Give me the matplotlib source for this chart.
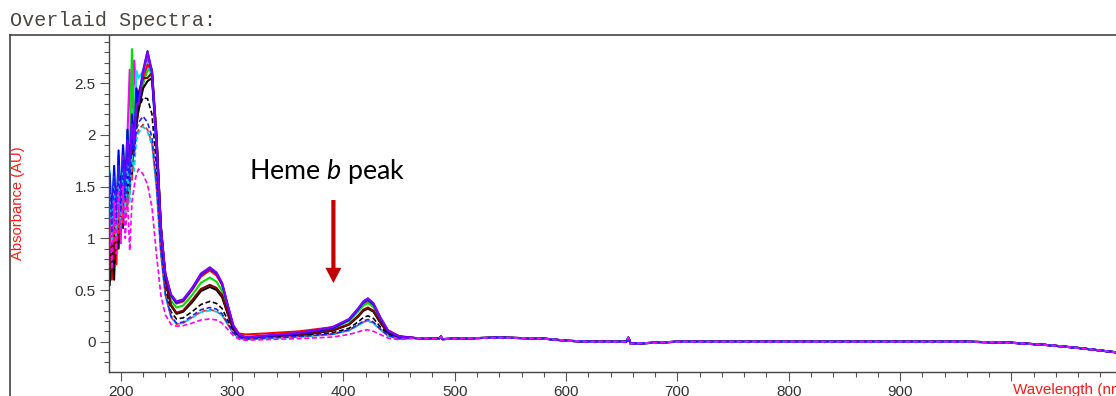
import matplotlib
matplotlib.use("Agg")
import matplotlib.pyplot as plt
from matplotlib.lines import Line2D
from matplotlib.ticker import MultipleLocator, FixedLocator, FixedFormatter

# ============================================================
# Data
# ============================================================
# noisy far-UV part (nm)
wl_noise = [190, 192, 194, 196, 198, 200, 202, 204, 206, 208, 210, 212, 214]
# smooth part, one value per series at each wavelength (nm)
wl_main = [216, 220, 224, 228, 232, 236, 240, 245, 250, 256, 264, 272, 280, 286,
           291, 296, 301, 306, 312, 330, 360, 390, 405, 413, 418, 422, 427, 433,
           440, 450]
# flat visible / NIR part, all samples lie on top of each other
wl_tail = [465, 480, 486, 487.5, 489, 500, 520, 540, 560, 580, 600, 620, 654,
           656, 658, 700, 800, 900, 960, 1000, 1030, 1060, 1100]
abs_tail = [0.035, 0.03, 0.03, 0.05, 0.025, 0.03, 0.035, 0.04, 0.035, 0.03,
            0.01, 0.0, 0.0, 0.04, -0.02, 0.0, 0.0, 0.0, 0.0, -0.01, -0.03,
            -0.06, -0.11]

purple_noise = [1.45, 1.05, 1.55, 1.20, 1.70, 1.30, 1.80, 1.45, 1.95, 1.60, 2.10, 1.90, 2.30]
purple_main = [2.30, 2.60, 2.80, 2.62, 1.95, 1.10, 0.66, 0.46, 0.39, 0.41, 0.52, 0.66, 0.72, 0.67,
               0.57, 0.36, 0.16, 0.07, 0.045, 0.06, 0.085, 0.14, 0.22, 0.32, 0.39, 0.42, 0.37, 0.24,
               0.11, 0.05]

blue_noise = [1.62, 1.15, 1.70, 1.05, 1.85, 1.25, 1.90, 1.40, 2.05, 1.55, 2.20, 1.85, 2.45]
blue_main = [2.35, 2.62, 2.81, 2.60, 1.92, 1.08, 0.65, 0.45, 0.38, 0.40, 0.51, 0.65, 0.71, 0.66,
             0.56, 0.35, 0.15, 0.065, 0.04, 0.055, 0.08, 0.13, 0.21, 0.31, 0.38, 0.41, 0.36, 0.23,
             0.10, 0.05]

magenta_noise = [1.30, 0.75, 1.50, 0.90, 1.65, 1.10, 1.75, 1.30, 2.00, 2.63, 1.80, 2.72, 2.40]
magenta_main = [2.40, 2.55, 2.74, 2.58, 1.90, 1.07, 0.64, 0.45, 0.38, 0.40, 0.51, 0.65, 0.71, 0.66,
                0.56, 0.35, 0.15, 0.065, 0.04, 0.055, 0.08, 0.135, 0.215, 0.315, 0.39, 0.415, 0.37,
                0.235, 0.105, 0.05]

cyan_noise = [1.65, 1.20, 1.60, 1.10, 1.75, 1.35, 1.85, 1.50, 2.00, 1.70, 2.25, 2.05, 2.62]
cyan_main = [2.55, 2.62, 2.70, 2.55, 1.88, 1.05, 0.63, 0.44, 0.37, 0.39, 0.50, 0.64, 0.70, 0.65,
             0.55, 0.34, 0.15, 0.06, 0.04, 0.05, 0.075, 0.13, 0.21, 0.30, 0.37, 0.40, 0.355, 0.225,
             0.10, 0.045]

red_noise = [1.10, 0.60, 1.30, 0.75, 1.55, 1.00, 1.70, 1.20, 1.85, 1.45, 2.05, 2.20, 2.10]
red_main = [2.25, 2.50, 2.68, 2.62, 1.98, 1.12, 0.66, 0.45, 0.37, 0.39, 0.50, 0.63, 0.69, 0.64,
            0.55, 0.34, 0.16, 0.08, 0.07, 0.08, 0.10, 0.14, 0.21, 0.30, 0.37, 0.39, 0.35, 0.23,
            0.11, 0.055]

green_noise = [1.50, 1.00, 1.65, 1.15, 1.80, 1.30, 1.90, 1.55, 2.05, 1.75, 2.83, 2.00, 2.45]
green_main = [2.35, 2.50, 2.62, 2.64, 2.00, 1.10, 0.63, 0.40, 0.33, 0.35, 0.45, 0.57, 0.62, 0.58,
              0.49, 0.30, 0.14, 0.06, 0.04, 0.05, 0.075, 0.125, 0.20, 0.29, 0.35, 0.375, 0.335,
              0.215, 0.10, 0.045]

maroon_noise = [0.70, 1.20, 0.80, 1.45, 1.00, 1.55, 1.20, 1.75, 1.40, 1.90, 1.65, 2.10, 2.20]
maroon_main = [2.40, 2.55, 2.55, 2.60, 2.02, 1.12, 0.62, 0.36, 0.28, 0.30, 0.40, 0.51, 0.55, 0.52,
               0.45, 0.28, 0.13, 0.06, 0.04, 0.05, 0.07, 0.11, 0.17, 0.25, 0.31, 0.33, 0.30, 0.19,
               0.09, 0.045]

black_noise = [0.55, 0.95, 0.60, 1.30, 0.90, 1.45, 1.10, 1.60, 1.35, 1.80, 1.60, 2.00, 2.10]
black_main = [2.25, 2.45, 2.52, 2.55, 2.00, 1.10, 0.60, 0.35, 0.27, 0.29, 0.38, 0.49, 0.53, 0.50,
              0.43, 0.27, 0.12, 0.055, 0.035, 0.045, 0.065, 0.105, 0.165, 0.24, 0.30, 0.32, 0.29,
              0.185, 0.085, 0.04]

black_d_noise = [0.80, 1.30, 0.95, 1.50, 1.10, 1.60, 1.25, 1.70, 1.45, 1.85, 1.70, 2.00, 2.15]
black_d_main = [2.25, 2.36, 2.35, 2.20, 1.70, 0.95, 0.52, 0.29, 0.22, 0.23, 0.29, 0.36, 0.39, 0.37,
                0.32, 0.21, 0.10, 0.045, 0.03, 0.04, 0.055, 0.085, 0.13, 0.19, 0.235, 0.25, 0.225,
                0.145, 0.07, 0.035]

blue_d_noise = [1.55, 1.05, 1.60, 1.15, 1.70, 1.25, 1.75, 1.35, 1.85, 1.50, 1.95, 1.80, 2.05]
blue_d_main = [2.12, 2.18, 2.12, 1.98, 1.55, 0.88, 0.47, 0.25, 0.18, 0.19, 0.25, 0.31, 0.33, 0.315,
               0.27, 0.18, 0.085, 0.04, 0.025, 0.035, 0.05, 0.075, 0.115, 0.165, 0.20, 0.215, 0.19,
               0.125, 0.06, 0.03]

red_d_noise = [0.90, 1.40, 0.95, 1.50, 1.05, 1.55, 1.15, 1.65, 1.30, 1.75, 1.55, 1.90, 2.00]
red_d_main = [2.05, 2.10, 2.05, 1.92, 1.50, 0.85, 0.45, 0.24, 0.17, 0.18, 0.235, 0.29, 0.31, 0.295,
              0.255, 0.17, 0.08, 0.04, 0.025, 0.035, 0.05, 0.07, 0.11, 0.16, 0.19, 0.205, 0.18,
              0.12, 0.055, 0.03]

cyan_d_noise = [1.45, 0.95, 1.50, 1.00, 1.55, 1.10, 1.65, 1.25, 1.70, 1.35, 1.80, 1.65, 1.95]
cyan_d_main = [2.02, 2.08, 2.03, 1.90, 1.48, 0.84, 0.44, 0.24, 0.17, 0.18, 0.23, 0.285, 0.30, 0.29,
               0.25, 0.165, 0.08, 0.035, 0.02, 0.03, 0.045, 0.07, 0.105, 0.155, 0.185, 0.20, 0.175,
               0.115, 0.055, 0.025]

magenta_d_noise = [1.20, 0.70, 1.35, 0.85, 1.45, 0.95, 1.50, 1.00, 1.40, 0.88, 1.35, 1.50, 1.62]
magenta_d_main = [1.67, 1.62, 1.52, 1.30, 0.85, 0.45, 0.26, 0.17, 0.15, 0.155, 0.18, 0.21, 0.22,
                  0.21, 0.18, 0.12, 0.06, 0.025, 0.015, 0.02, 0.03, 0.045, 0.07, 0.095, 0.11, 0.115,
                  0.10, 0.07, 0.035, 0.02]

series = [
    # (noise, main, colour, linestyle)
    (magenta_noise, magenta_main, "#ff00ff", "-"),
    (cyan_noise, cyan_main, "#00e5ff", "-"),
    (red_noise, red_main, "#ff0000", "-"),
    (green_noise, green_main, "#00e000", "-"),
    (black_noise, black_main, "#000000", "-"),
    (maroon_noise, maroon_main, "#800000", "-"),
    (black_d_noise, black_d_main, "#000000", "--"),
    (red_d_noise, red_d_main, "#ff2020", "--"),
    (blue_noise, blue_main, "#0000ff", "-"),
    (purple_noise, purple_main, "#8000ff", "-"),
    (cyan_d_noise, cyan_d_main, "#00d0e0", "--"),
    (blue_d_noise, blue_d_main, "#2020ff", "--"),
    (magenta_d_noise, magenta_d_main, "#ff00ff", "--"),
]

x_ticks = [200, 300, 400, 500, 600, 700, 800, 900, 1000]
x_tick_labels = ["200", "300", "400", "500", "600", "700", "800", "900", ""]
y_ticks = [0, 0.5, 1, 1.5, 2, 2.5]
y_tick_labels = ["0", "0.5", "1", "1.5", "2", "2.5"]

# ============================================================
# Figure
# ============================================================
W, H = 1116, 396
plt.rcParams["mathtext.fontset"] = "custom"
plt.rcParams["mathtext.rm"] = "Lato"
plt.rcParams["mathtext.it"] = "Lato:italic"

fig = plt.figure(figsize=(W / 100, H / 100), dpi=100)

# outer frame of the report panel
fig.add_artist(Line2D([10 / W, 10 / W], [0, 1 - 35 / H], transform=fig.transFigure,
                      color="#444444", lw=1.2))
fig.add_artist(Line2D([10 / W, 1], [1 - 35 / H, 1 - 35 / H], transform=fig.transFigure,
                      color="#444444", lw=1.2))

fig.text(10 / W, 1 - 20 / H, "Overlaid Spectra:", family="Liberation Mono",
         fontsize=14.5, color="#4a4540", va="center", ha="left")

ax = fig.add_axes([109 / W, (H - 371.7) / H, 1 - 109 / W, (371.7 - 35) / H])

for noise, main, color, ls in series:
    xs = wl_noise + wl_main + wl_tail
    ys = noise + main + abs_tail
    if ls == "--":
        ax.plot(xs, ys, color=color, lw=1.2, ls=(0, (3, 1.6)))
    else:
        ax.plot(xs, ys, color=color, lw=1.5)

ax.set_xlim(189.4, 1094)
ax.set_ylim(-0.29, 2.966)

ax.xaxis.set_major_locator(FixedLocator(x_ticks))
ax.xaxis.set_major_formatter(FixedFormatter(x_tick_labels))
ax.xaxis.set_minor_locator(MultipleLocator(20))
ax.yaxis.set_major_locator(FixedLocator(y_ticks))
ax.yaxis.set_major_formatter(FixedFormatter(y_tick_labels))
ax.yaxis.set_minor_locator(MultipleLocator(0.1))

ax.tick_params(axis="both", which="major", length=6.5, width=0.8, color="#555555",
               labelsize=11, labelcolor="#333333", pad=3)
ax.tick_params(axis="both", which="minor", length=3.4, width=0.8, color="#555555")
for lab in ax.get_xticklabels() + ax.get_yticklabels():
    lab.set_family("Liberation Sans")

for side in ["top", "right"]:
    ax.spines[side].set_visible(False)
for side in ["left", "bottom"]:
    ax.spines[side].set_color("#444444")
    ax.spines[side].set_linewidth(1.0)

fig.text(18 / W, 1 - 203 / H, "Absorbance (AU)", rotation=90, color="#ff1a1a",
         family="Liberation Sans", fontsize=10.6, ha="center", va="center")
fig.text(1013 / W, 1 - 390 / H, "Wavelength (nm)", color="#ff1a1a",
         family="Liberation Sans", fontsize=11, ha="left", va="center")

# annotation
fig.text(249 / W, 1 - 179 / H, r"Heme $b$ peak", family="Lato", fontsize=19.3,
         color="black", ha="left", va="baseline")
ax.annotate("", xy=(391, 0.567), xytext=(391, 1.37),
            arrowprops=dict(width=3, headwidth=11.5, headlength=11, shrink=0,
                            color="#c00000", lw=0))

fig.savefig("out.png", dpi=100)
